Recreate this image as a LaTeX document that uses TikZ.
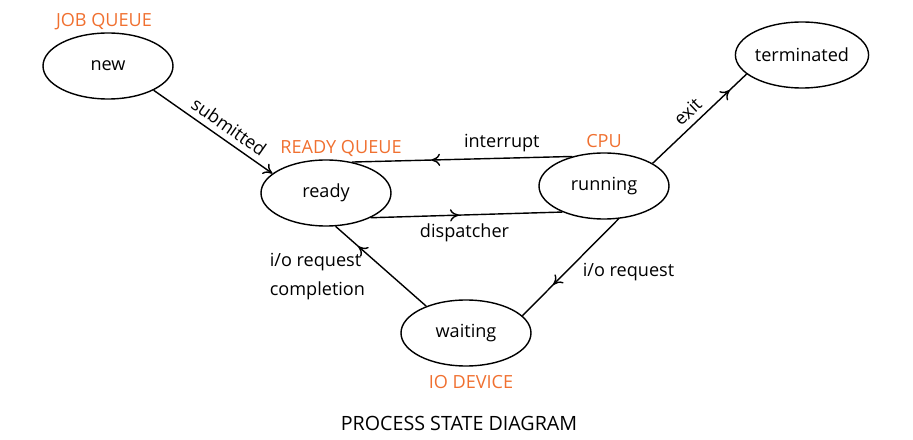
\documentclass[tikz,border=0pt]{standalone}
\usepackage{fontspec}
\setmainfont{Open Sans}
\usetikzlibrary{shapes.geometric,arrows.meta,decorations.markings}
\definecolor{queueorange}{RGB}{240,112,48}
\begin{document}
\begin{tikzpicture}[
        font=\fontsize{10.3}{12.4}\selectfont,
        >={To[length=5pt,width=7pt]},
        procstate/.style={draw, ellipse, thick, minimum width=2.6cm, minimum height=1.32cm, inner sep=0pt},
        queuetag/.style={text=queueorange},
        midarrow/.style={postaction={decorate}, decoration={markings, mark=at position #1 with {\arrow{>}}}}
    ]
        \useasboundingbox (0,0) rectangle (18.26,8.8);

        \node[procstate] (new) at (2.16,7.48) {new};
        \node[procstate] (ready) at (6.52,4.94) {ready};
        \node[procstate] (running) at (12.08,5.08) {running};
        \node[procstate] (terminated) at (16.04,7.70) {terminated};
        \node[procstate] (waiting) at (9.32,2.14) {waiting};

        \node[queuetag] (jobq) at (2.08,8.36) {JOB QUEUE};
        \node[queuetag] (readyq) at (6.82,5.84) {READY QUEUE};
        \node[queuetag] (cpu) at (12.08,5.98) {CPU};
        \node[queuetag] (iodev) at (9.42,1.16) {IO DEVICE};

        \draw[thick, ->] (new.-28) -- node[sloped, above, pos=0.57] {submitted} (ready.160);
        \draw[thick, midarrow=0.64] (running.137) -- node[above, pos=0.32] {interrupt} (ready.50);
        \draw[thick, midarrow=0.46] (ready.-29) -- node[below, pos=0.49, yshift=-1pt] {dispatcher} (running.-148);
        \draw[thick, midarrow=0.82] (running.25) -- node[sloped, above, pos=0.47] {exit} (terminated.199);
        \draw[thick, midarrow=0.68] (running.-66) -- node[right=6pt, pos=0.55] {i/o request} (waiting.17);
        \draw[thick, midarrow=0.75] (waiting.146) -- node[left=12pt, pos=0.37, align=left] {i/o request\\[4.5pt]completion} (ready.-74);

        \node[font=\fontsize{11.2}{13.4}\selectfont] (title) at (9.18,0.34) {PROCESS STATE DIAGRAM};
\end{tikzpicture}
\end{document}
